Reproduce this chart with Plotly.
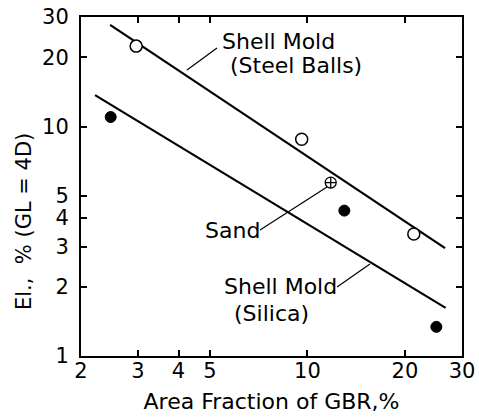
import math
import plotly.graph_objects as go

# Elongation vs. area fraction of grain-boundary region (log-log)
steel_x = [2.96, 9.6, 21.3]
steel_y = [22.4, 8.8, 3.4]
sand_x = [11.8]
sand_y = [5.7]
silica_x = [2.47, 13.0, 25.0]
silica_y = [11.0, 4.3, 1.34]

# fitted trend lines (end points)
steel_fit_x = [2.46, 26.6]
steel_fit_y = [27.7, 2.95]
silica_fit_x = [2.21, 26.7]
silica_fit_y = [13.7, 1.62]

x_ticks = [2, 3, 4, 5, 10, 20, 30]
y_ticks = [1, 2, 3, 4, 5, 10, 20, 30]

W, H = 479, 418
L, R, T, B = 81, 17, 17, 62
FONT = "DejaVu Sans"


def px(x):
    return (x - L) / (W - L - R)


def py(y):
    return (H - B - y) / (H - T - B)


fig = go.Figure()
fig.add_trace(go.Scatter(x=steel_fit_x, y=steel_fit_y, mode="lines",
                         line=dict(color="black", width=2.2), showlegend=False))
fig.add_trace(go.Scatter(x=silica_fit_x, y=silica_fit_y, mode="lines",
                         line=dict(color="black", width=2.2), showlegend=False))
fig.add_trace(go.Scatter(x=steel_x, y=steel_y, mode="markers",
                         marker=dict(symbol="circle", size=12, color="white",
                                     line=dict(color="black", width=1.5)),
                         showlegend=False))
fig.add_trace(go.Scatter(x=sand_x, y=sand_y, mode="markers",
                         marker=dict(symbol="circle-cross", size=11, color="white",
                                     line=dict(color="black", width=1.3)),
                         showlegend=False))
fig.add_trace(go.Scatter(x=silica_x, y=silica_y, mode="markers",
                         marker=dict(symbol="circle", size=11, color="black",
                                     line=dict(color="black", width=1)),
                         showlegend=False))

# leader lines from labels to curves
leaders = [((187, 70), (217, 48)),
           ((260, 230), (327, 187)),
           ((337, 287), (370, 264))]
for (x0, y0), (x1, y1) in leaders:
    fig.add_shape(type="line", xref="paper", yref="paper",
                  x0=px(x0), y0=py(y0), x1=px(x1), y1=py(y1),
                  line=dict(color="black", width=1.2))

labels = [("Shell Mold", 220, 41), ("(Steel Balls)", 228, 65),
          ("Sand", 203, 230),
          ("Shell Mold", 222, 286), ("(Silica)", 232, 313)]
for text, x, y in labels:
    fig.add_annotation(text=text, xref="paper", yref="paper",
                       x=px(x), y=py(y), xanchor="left", yanchor="middle",
                       showarrow=False, font=dict(family=FONT, size=22, color="black"))

fig.add_annotation(text="El.,  % (GL = 4D)", xref="paper", yref="paper",
                   x=px(24), y=py(222), textangle=-90, xanchor="center", yanchor="middle",
                   showarrow=False, font=dict(family=FONT, size=21, color="black"))

axis_common = dict(type="log", showgrid=False, zeroline=False, automargin=False,
                   showline=True, linecolor="black", linewidth=2,
                   ticks="inside", ticklen=6, tickwidth=2, tickcolor="black",
                   mirror="ticks",
                   tickfont=dict(family=FONT, size=21, color="black"))

fig.update_xaxes(range=[math.log10(2), math.log10(30)],
                 tickvals=x_ticks, ticktext=[str(v) for v in x_ticks],
                 ticklabelstandoff=-5,
                 title=dict(text="Area Fraction of GBR,%", standoff=11,
                            font=dict(family=FONT, size=22, color="black")),
                 **axis_common)
fig.update_yaxes(range=[0, math.log10(30)],
                 tickvals=y_ticks, ticktext=[str(v) for v in y_ticks],
                 ticklabelstandoff=6,
                 **axis_common)

fig.update_layout(width=W, height=H, margin=dict(l=L, r=R, t=T, b=B),
                  paper_bgcolor="white", plot_bgcolor="white")

fig.write_html("out.html")
